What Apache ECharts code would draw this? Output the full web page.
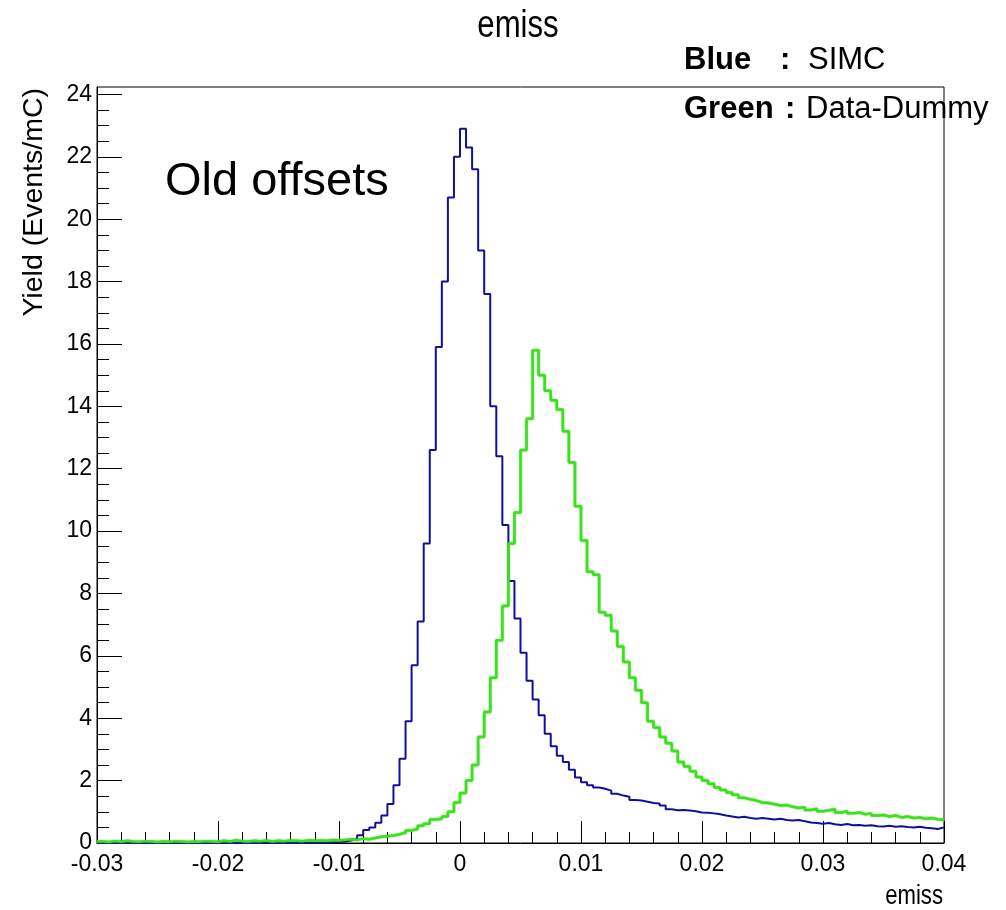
<!DOCTYPE html>
<html>
<head>
<meta charset="utf-8">
<script src="https://cdn.jsdelivr.net/npm/echarts@6/dist/echarts.min.js"></script>
<style>
html,body{margin:0;padding:0;background:#fff;}
#chart{width:1006px;height:910px;}
</style>
</head>
<body>
<div id="chart"></div>
<script>
// Histogram binning (emiss)
var xMin = -0.03;
var xMax = 0.04;
var binWidth = 0.0005;

// Blue: SIMC (bin contents, 140 bins)
var simcValues = [
  0,0,0,0,0,0,0,0,0,0, 0,0,0,0,0,0,0,0,0,0,
  0,0,0,0,0,0,0,0,0,0, 0,0,0,0,0.01,0.01,0.01,0.02,
  0.02,0.03,0.05,0.08,0.14,0.25,0.42,0.50,0.65,0.88,
  1.25,1.85,2.7,3.9,5.7,7.1,9.6,12.6,15.9,18.0,
  20.7,22.0,22.9,22.3,21.6,19.0,17.6,14.0,12.4,10.2,
  8.4,7.2,6.1,5.2,4.6,4.1,3.5,3.1,2.8,2.6,
  2.35,2.1,1.95,1.85,1.78,1.74,1.68,1.58,1.52,1.48,
  1.38,1.36,1.32,1.28,1.27,1.2,1.08,1.05,1.06,1.04,
  1.02,0.98,0.97,0.95,0.92,0.88,0.85,0.82,0.84,0.80,
  0.78,0.80,0.78,0.75,0.78,0.74,0.72,0.74,0.70,0.66,
  0.64,0.62,0.64,0.60,0.58,0.61,0.57,0.58,0.55,0.57,
  0.54,0.53,0.55,0.52,0.54,0.51,0.50,0.52,0.49,0.47,
  0.45,0.50
];

// Green: Data-Dummy (bin contents, 140 bins)
var dataValues = [
  0.05,0.03,0.06,0.04,0.07,0.05,0.04,0.06,0.05,0.03,
  0.05,0.04,0.06,0.05,0.03,0.05,0.04,0.06,0.05,0.04,
  0.07,0.05,0.09,0.06,0.05,0.07,0.06,0.08,0.05,0.07,
  0.06,0.08,0.07,0.06,0.09,0.07,
  0.08,0.07,0.1,0.08,
  0.1,0.12,0.1,0.14,0.12,0.16,0.2,0.22,0.24,0.28,
  0.33,0.40,0.45,0.55,0.62,0.75,0.78,0.85,1.0,1.3,
  1.6,2.0,2.5,3.4,4.2,5.3,6.5,7.6,9.6,10.6,
  12.6,13.6,15.8,15.0,14.5,14.2,13.9,13.2,12.2,10.8,
  9.7,8.7,8.6,7.4,7.3,6.8,6.3,5.8,5.3,4.9,
  4.5,3.9,3.7,3.4,3.2,2.95,2.6,2.45,2.3,2.12,
  2.0,1.9,1.78,1.7,1.62,1.55,1.45,1.40,1.36,1.30,
  1.28,1.24,1.20,1.22,1.16,1.12,1.15,1.06,1.10,1.02,
  1.05,1.08,0.98,1.02,0.95,0.98,0.92,0.95,0.88,0.90,
  0.85,0.88,0.82,0.85,0.80,0.82,0.78,0.80,0.76,0.74
];

// Axis ticks
var xTickInterval = 0.01;
var yMax = 24.24;
var yMajorTicks = [0,2,4,6,8,10,12,14,16,18,20,22,24];
var yMinorStep = 0.5;

// Texts
var titleText = 'emiss';
var xAxisTitle = 'emiss';
var yAxisTitle = 'Yield (Events/mC)';
var annotationText = 'Old offsets';
var legendRows = [['Blue', 'SIMC'], ['Green', 'Data-Dummy']];

function toHistData(vals) {
  var d = vals.map(function (v, i) { return [xMin + i * binWidth, v]; });
  d.push([xMax, vals[vals.length - 1]]);
  return d;
}
var yMinorTicks = [];
for (var t = yMinorStep; t < yMax; t += yMinorStep) {
  var r = Math.round(t * 100) / 100;
  if (yMajorTicks.indexOf(r) < 0) yMinorTicks.push(r);
}

var regular = "'Liberation Sans', Arial, sans-serif";

var chart = echarts.init(document.getElementById('chart'), null, {renderer: 'canvas'});
var option = {
  backgroundColor: '#fff',
  animation: false,
  grid: {
    left: 97, right: 62, top: 87, bottom: 67,
    show: true, borderColor: '#000', borderWidth: 1, backgroundColor: 'transparent',
    containLabel: false
  },
  xAxis: [{
    type: 'value', min: xMin, max: xMax, interval: xTickInterval, position: 'bottom',
    axisLine: {show: true, onZero: false, lineStyle: {color: '#000', width: 1}},
    axisTick: {show: true, inside: true, length: 22, lineStyle: {color: '#000', width: 1}},
    minorTick: {show: true, splitNumber: 5, length: 11, lineStyle: {color: '#000', width: 1}},
    splitLine: {show: false}, minorSplitLine: {show: false},
    axisLabel: {
      show: true, margin: 10, color: '#000', fontSize: 23, fontFamily: regular,
      formatter: function (v) { return String(Math.round(v * 1000) / 1000); }
    }
  }],
  yAxis: [{
    type: 'value', min: 0, max: yMax, position: 'left',
    axisLine: {show: true, onZero: false, lineStyle: {color: '#000', width: 1}},
    axisTick: {show: true, inside: true, length: 25, customValues: yMajorTicks, lineStyle: {color: '#000', width: 1}},
    splitLine: {show: false},
    axisLabel: {show: true, margin: 5, color: '#000', fontSize: 23, fontFamily: regular,
      customValues: yMajorTicks, verticalAlign: 'middle', padding: [6, 0, 0, 0]}
  }, {
    type: 'value', min: 0, max: yMax, position: 'left', offset: 0,
    axisLine: {show: false, onZero: false},
    axisTick: {show: true, inside: true, length: 12, customValues: yMinorTicks, lineStyle: {color: '#000', width: 1}},
    splitLine: {show: false},
    axisLabel: {show: false}
  }],
  series: [{
    name: 'SIMC', type: 'line', step: 'end', showSymbol: false, symbol: 'none',
    data: toHistData(simcValues), xAxisIndex: 0, yAxisIndex: 0,
    lineStyle: {color: '#10109c', width: 2}, z: 3
  }, {
    name: 'Data-Dummy', type: 'line', step: 'end', showSymbol: false, symbol: 'none',
    data: toHistData(dataValues), xAxisIndex: 0, yAxisIndex: 0,
    lineStyle: {color: '#2ee81a', width: 2.5, shadowColor: 'rgba(120,130,40,0.7)', shadowBlur: 2}, z: 4
  }],
  graphic: [
    {type: 'text', x: 518, y: 27, scaleX: 0.82, style: {text: titleText, font: '38px ' + regular, fill: '#000', align: 'center', verticalAlign: 'middle'}, z: 10},
    {type: 'text', x: 943, y: 897, scaleX: 0.82, style: {text: xAxisTitle, font: '27px ' + regular, fill: '#000', align: 'right', verticalAlign: 'middle'}, z: 10},
    {type: 'text', x: 34, y: 88, rotation: Math.PI / 2, style: {text: yAxisTitle, font: '28.5px ' + regular, fill: '#000', align: 'right', verticalAlign: 'middle'}, z: 10},
    {type: 'text', x: 165, y: 182, style: {text: annotationText, font: '47px ' + regular, fill: '#000', align: 'left', verticalAlign: 'middle'}, z: 10},
    {type: 'text', x: 684, y: 60, style: {text: legendRows[0][0], font: 'bold 31px ' + regular, fill: '#000', verticalAlign: 'middle'}, z: 1},
    {type: 'text', x: 780, y: 60, style: {text: ':', font: 'bold 31px ' + regular, fill: '#000', verticalAlign: 'middle'}, z: 1},
    {type: 'text', x: 808, y: 60, style: {text: legendRows[0][1], font: '31px ' + regular, fill: '#000', verticalAlign: 'middle'}, z: 1},
    {type: 'text', x: 684, y: 109, style: {text: legendRows[1][0], font: 'bold 31px ' + regular, fill: '#000', verticalAlign: 'middle'}, z: 1},
    {type: 'text', x: 785, y: 109, style: {text: ':', font: 'bold 31px ' + regular, fill: '#000', verticalAlign: 'middle'}, z: 1},
    {type: 'text', x: 806, y: 109, style: {text: legendRows[1][1], font: '31px ' + regular, fill: '#000', verticalAlign: 'middle'}, z: 1}
  ]
};
chart.setOption(option);
</script>
</body>
</html>
